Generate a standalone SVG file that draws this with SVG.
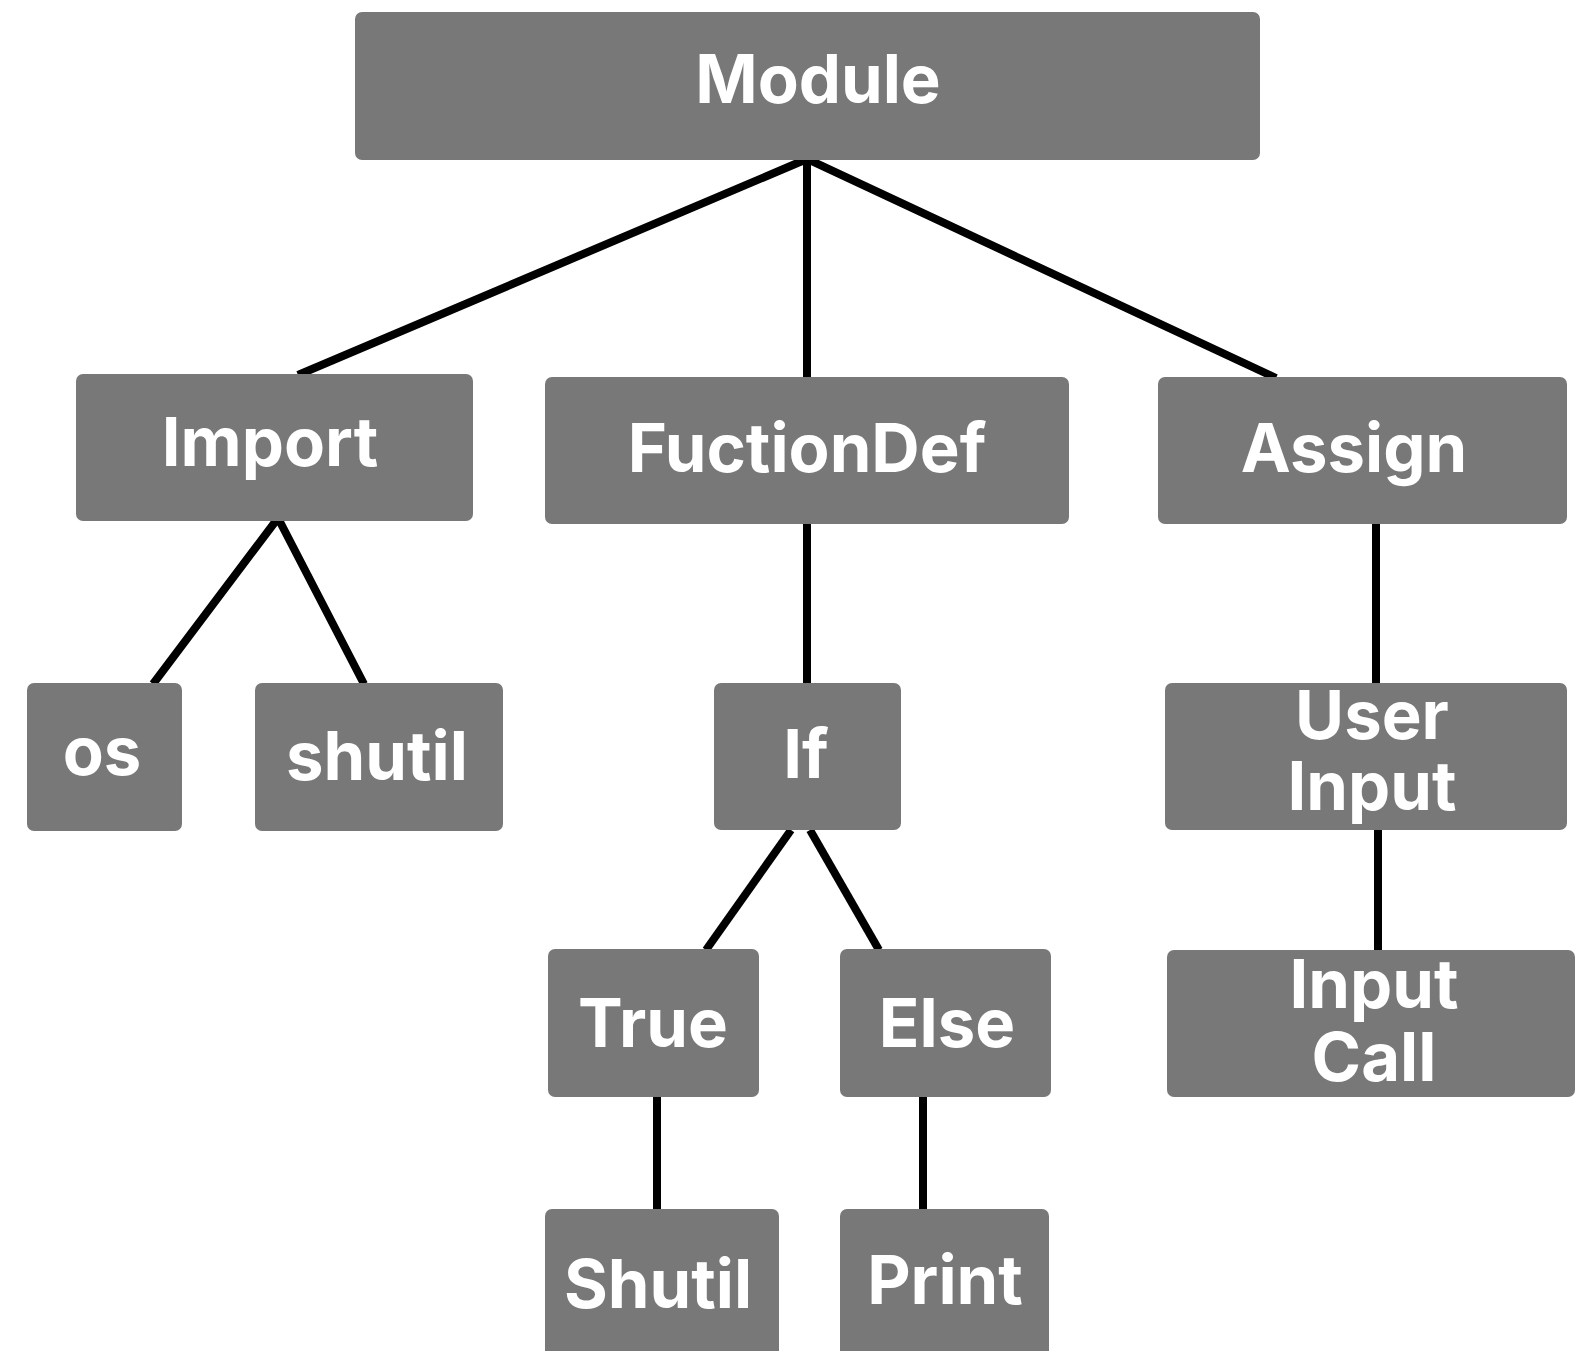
<svg xmlns="http://www.w3.org/2000/svg" width="1575" height="1351" viewBox="0 0 1575 1351">
<style>
.box{fill:#787878}
.t{fill:#ffffff;font-family:Inter,"Noto Sans","Liberation Sans",sans-serif;font-weight:700;font-size:67px;text-anchor:middle}
.c{stroke:#000;stroke-width:8;fill:none;stroke-linejoin:miter}
</style>
<rect width="1575" height="1351" fill="#fff"/>
<g id="connectors">
<polyline class="c" points="298,375 807,159 1276,378"/>
<line class="c" x1="807" y1="159" x2="807" y2="377"/>
<polyline class="c" points="153,684 278,518 364,684"/>
<line class="c" x1="807" y1="524" x2="807" y2="683"/>
<line class="c" x1="791" y1="830" x2="706" y2="950"/>
<line class="c" x1="810" y1="830" x2="879" y2="950"/>
<line class="c" x1="657" y1="1097" x2="657" y2="1209"/>
<line class="c" x1="923" y1="1097" x2="923" y2="1209"/>
<line class="c" x1="1376" y1="524" x2="1376" y2="683"/>
<line class="c" x1="1378" y1="830" x2="1378" y2="950"/>
</g>
<g id="module"><rect class="box" x="355" y="12" width="905" height="148" rx="7"/><text class="t" x="818" y="103">Module</text></g>
<g id="import"><rect class="box" x="76" y="374" width="397" height="147" rx="7"/><text class="t" x="270" y="466">Import</text></g>
<g id="functiondef"><rect class="box" x="545" y="377" width="524" height="147" rx="7"/><text class="t" x="807" y="472">FuctionDef</text></g>
<g id="assign"><rect class="box" x="1158" y="377" width="409" height="147" rx="7"/><text class="t" x="1354" y="472">Assign</text></g>
<g id="os"><rect class="box" x="27" y="683" width="155" height="148" rx="7"/><text class="t" x="102" y="775">os</text></g>
<g id="shutil"><rect class="box" x="255" y="683" width="248" height="148" rx="7"/><text class="t" x="377" y="780">shutil</text></g>
<g id="if"><rect class="box" x="714" y="683" width="187" height="147" rx="7"/><text class="t" x="806" y="778">If</text></g>
<g id="userinput"><rect class="box" x="1165" y="683" width="402" height="147" rx="7"/><text class="t" x="1372" y="739">User</text><text class="t" x="1372" y="810">Input</text></g>
<g id="true"><rect class="box" x="548" y="949" width="211" height="148" rx="7"/><text class="t" x="653" y="1047">True</text></g>
<g id="else"><rect class="box" x="840" y="949" width="211" height="148" rx="7"/><text class="t" x="947" y="1047">Else</text></g>
<g id="inputcall"><rect class="box" x="1167" y="950" width="408" height="147" rx="7"/><text class="t" x="1374" y="1008">Input</text><text class="t" x="1374" y="1081">Call</text></g>
<g id="shutil2"><rect class="box" x="545" y="1209" width="234" height="150" rx="7"/><text class="t" x="658" y="1308">Shutil</text></g>
<g id="print"><rect class="box" x="840" y="1209" width="209" height="150" rx="7"/><text class="t" x="945" y="1304">Print</text></g>
</svg>
